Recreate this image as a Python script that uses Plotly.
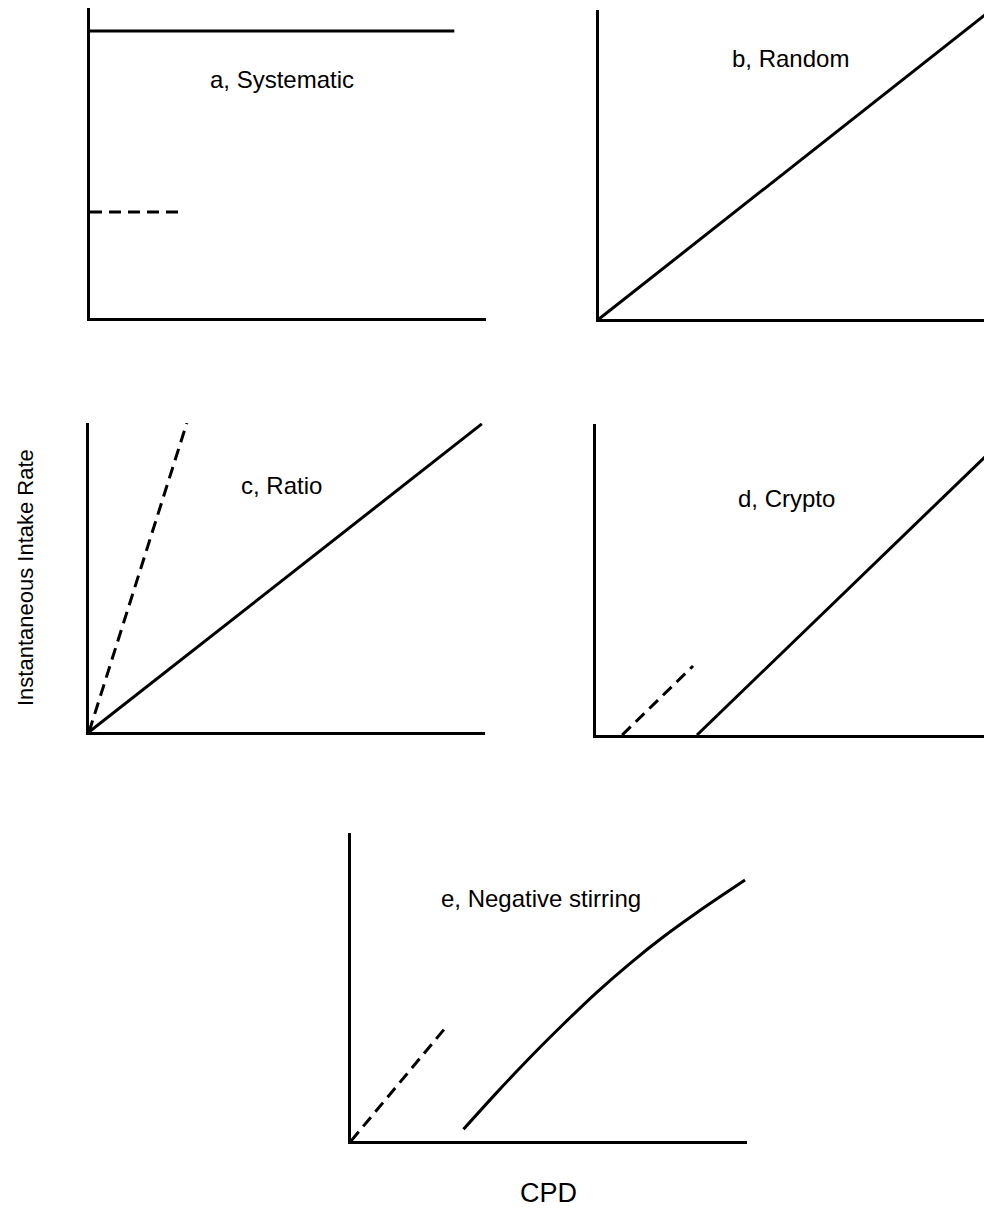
import plotly.graph_objects as go

W, H = 984, 1209

# ---- data (unit coordinates: 0..1 along each axis) ----
a_solid_x = [0.0, 0.92]
a_solid_y = [0.926, 0.926]
a_dash_x = [0.0, 0.23]
a_dash_y = [0.342, 0.342]

b_solid_x = [0.0, 1.0]
b_solid_y = [0.0, 1.01]

c_solid_x = [0.0, 0.992]
c_solid_y = [0.0, 0.997]
c_dash_x = [0.0, 0.247]
c_dash_y = [0.0, 1.0]

d_solid_x = [0.255, 1.0]
d_solid_y = [0.0, 0.916]
d_dash_x = [0.066, 0.245]
d_dash_y = [0.0, 0.222]

e_solid_x = [0.284, 0.368, 0.452, 0.536, 0.620, 0.705, 0.789, 0.873, 0.995]
e_solid_y = [0.038, 0.157, 0.271, 0.379, 0.482, 0.577, 0.663, 0.741, 0.847]
e_dash_x = [0.0, 0.24]
e_dash_y = [0.0, 0.37]

panel_labels = ["a, Systematic", "b, Random", "c, Ratio", "d, Crypto", "e, Negative stirring"]
x_title = "CPD"
y_title = "Instantaneous Intake Rate"

# ---- layout (pixel boxes: left, right, top, bottom) ----
boxes = [
    (90, 486, 8, 318),
    (599, 984, 10, 319),
    (89, 485, 423, 732),
    (596, 984, 424, 735),
    (351, 747, 833, 1141),
]
xranges = [[0, 1], [0, 385 / 396], [0, 1], [0, 388 / 396], [0, 1]]
label_pos = [(282, 80), (790, 58), (281, 485), (786, 498), (541, 898)]

FONT = "Liberation Sans, Arial, Helvetica, sans-serif"
LW = 3

series = [
    [(a_solid_x, a_solid_y, "solid"), (a_dash_x, a_dash_y, "dash")],
    [(b_solid_x, b_solid_y, "solid")],
    [(c_solid_x, c_solid_y, "solid"), (c_dash_x, c_dash_y, "dash")],
    [(d_solid_x, d_solid_y, "solid"), (d_dash_x, d_dash_y, "dash")],
    [(e_solid_x, e_solid_y, "solid"), (e_dash_x, e_dash_y, "dash")],
]

fig = go.Figure()
layout = {}
annotations = []
for i, (box, ser, xr, lab, lp) in enumerate(zip(boxes, series, xranges, panel_labels, label_pos)):
    n = i + 1
    suffix = "" if n == 1 else str(n)
    l, r, t, b = box
    axcommon = dict(showline=True, linecolor="black", linewidth=LW, showticklabels=False,
                    ticks="", showgrid=False, zeroline=False, fixedrange=True)
    layout["xaxis" + suffix] = dict(domain=[l / W, r / W], range=xr, anchor="y" + suffix, **axcommon)
    layout["yaxis" + suffix] = dict(domain=[1 - b / H, 1 - t / H], range=[0, 1], anchor="x" + suffix, **axcommon)
    for xs, ys, dash in ser:
        fig.add_trace(go.Scatter(
            x=xs, y=ys, mode="lines", xaxis="x" + suffix, yaxis="y" + suffix,
            line=dict(color="black", width=LW, shape="spline", smoothing=1.0,
                      dash=("12px,7px" if dash == "dash" else "solid")),
            showlegend=False, hoverinfo="skip"))
    annotations.append(dict(text=lab, x=lp[0] / W, y=1 - lp[1] / H, xref="paper", yref="paper",
                            xanchor="center", yanchor="middle", showarrow=False,
                            font=dict(family=FONT, size=24, color="black")))

annotations.append(dict(text=x_title, x=548 / W, y=1 - 1193 / H, xref="paper", yref="paper",
                        xanchor="center", yanchor="middle", showarrow=False,
                        font=dict(family=FONT, size=27, color="black")))
annotations.append(dict(text=y_title, x=25 / W, y=1 - 578 / H, xref="paper", yref="paper",
                        xanchor="center", yanchor="middle", showarrow=False, textangle=-90,
                        font=dict(family=FONT, size=22, color="black")))

fig.update_layout(
    width=W, height=H,
    margin=dict(l=0, r=0, t=0, b=0),
    paper_bgcolor="white", plot_bgcolor="white",
    showlegend=False,
    annotations=annotations,
    font=dict(family=FONT, color="black"),
    **layout,
)

fig.write_html(
    "out.html",
    config={"displayModeBar": False},
    post_script="document.body.style.margin='0';document.body.style.overflow='hidden';",
)
